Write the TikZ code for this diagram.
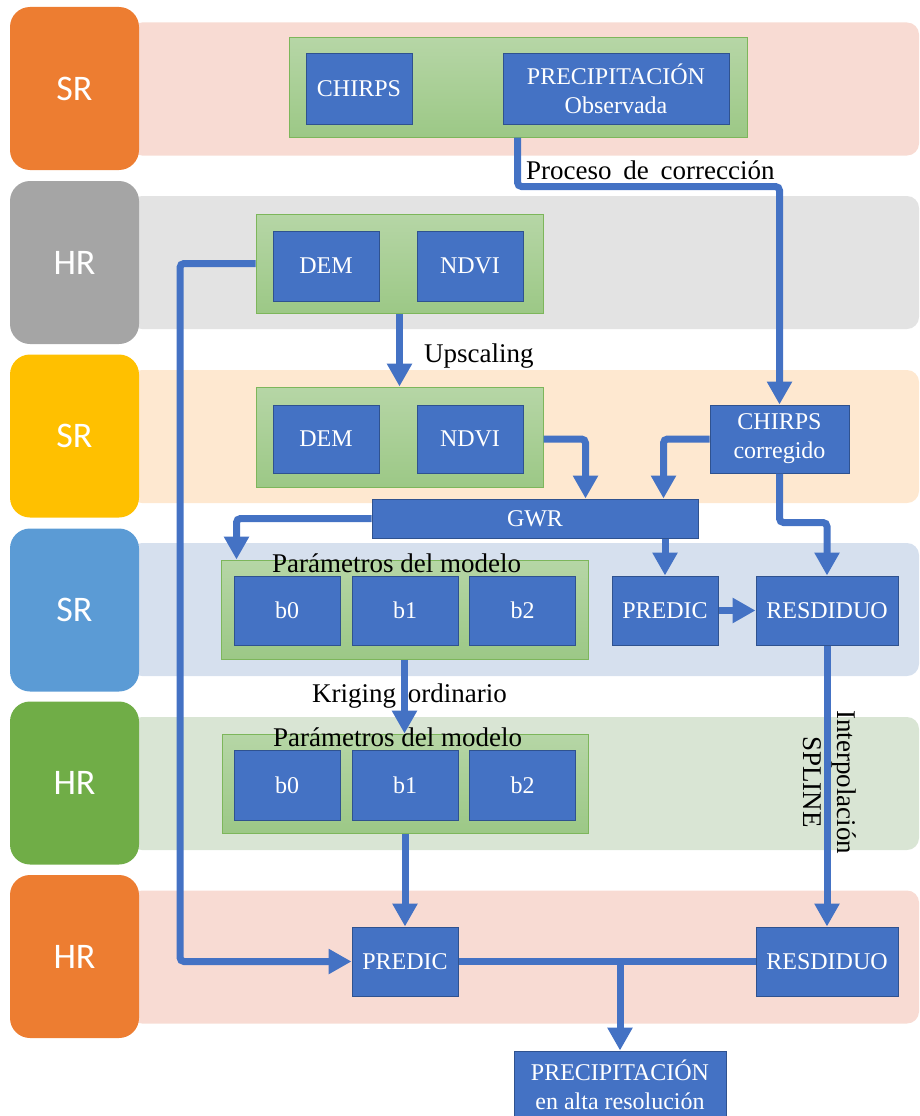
\documentclass[tikz,border=0pt]{standalone}
\usepackage{fontspec}
\setmainfont{Liberation Serif}
\newfontfamily\tagfont{Carlito}
\usetikzlibrary{arrows.meta,calc}

\definecolor{blkfill}{HTML}{4472C4}
\definecolor{blkedge}{HTML}{2F528F}
\definecolor{grptop}{HTML}{B6D6A6}
\definecolor{grpbot}{HTML}{9CC886}
\definecolor{grpedge}{HTML}{7DB65B}
\definecolor{tagorange}{HTML}{ED7D31}
\definecolor{taggray}{HTML}{A5A5A5}
\definecolor{tagyellow}{HTML}{FFC000}
\definecolor{tagblue}{HTML}{5B9BD5}
\definecolor{taggreen}{HTML}{70AD47}
\definecolor{bandpink}{HTML}{F8DBD3}
\definecolor{bandgray}{HTML}{E3E3E3}
\definecolor{bandpeach}{HTML}{FEE8D0}
\definecolor{bandblue}{HTML}{D6E0EE}
\definecolor{bandgreen}{HTML}{D9E5D4}

\begin{document}
\begin{tikzpicture}[x=1pt,y=-1pt,
  band/.style={rectangle, rounded corners=12pt, inner sep=0pt, minimum width=789pt, minimum height=133pt},
  tag/.style={rectangle, rounded corners=20pt, inner sep=0pt, minimum width=129pt, minimum height=163pt,
    text=white, font=\tagfont\fontsize{36}{40}\selectfont},
  group/.style={rectangle, inner sep=0pt, draw=grpedge, line width=1pt, top color=grptop, bottom color=grpbot},
  blk/.style={rectangle, inner sep=0pt, draw=blkedge, line width=1pt, fill=blkfill, text=white,
    align=center, font=\fontsize{24}{29}\selectfont},
  note/.style={inner sep=0pt, text=black, font=\fontsize{27}{34}\selectfont},
  conn/.style={draw=blkfill, line width=7pt, rounded corners=4pt, -{Triangle[width=24pt,length=23pt]}},
  link/.style={draw=blkfill, line width=7pt}]

\useasboundingbox (0,0) rectangle (919,1116);

% horizontal bands, one per resolution level
\node[band, fill=bandpink]  (band1) at (524.5, 89)   {};
\node[band, fill=bandgray]  (band2) at (524.5, 262.5) {};
\node[band, fill=bandpeach] (band3) at (524.5, 436.5) {};
\node[band, fill=bandblue]  (band4) at (524.5, 609.5) {};
\node[band, fill=bandgreen] (band5) at (524.5, 783.5) {};
\node[band, fill=bandpink]  (band6) at (524.5, 957)   {};

% resolution tags on the left
\node[tag, fill=tagorange] (tag1) at (74.5, 88.5)  {SR};
\node[tag, fill=taggray]   (tag2) at (74.5, 262.5) {HR};
\node[tag, fill=tagyellow] (tag3) at (74.5, 436)   {SR};
\node[tag, fill=tagblue]   (tag4) at (74.5, 610)   {SR};
\node[tag, fill=taggreen]  (tag5) at (74.5, 783)   {HR};
\node[tag, fill=tagorange] (tag6) at (74.5, 956.5) {HR};

% input data
\node[group, minimum width=458pt, minimum height=99pt] (c1) at (518, 87.5) {};
\node[blk, minimum width=106pt, minimum height=70pt] (chirps) at (359, 89) {CHIRPS};
\node[blk, minimum width=226pt, minimum height=70pt] (prec) at (616, 89) {PRECIPITACIÓN\\Observada};

% covariates at high resolution
\node[group, minimum width=287pt, minimum height=99pt] (c2) at (399.5, 263.5) {};
\node[blk, minimum width=106pt, minimum height=70pt] (dem1) at (326, 266) {DEM};
\node[blk, minimum width=106pt, minimum height=70pt] (ndvi1) at (470, 266) {NDVI};

% covariates upscaled
\node[group, minimum width=287pt, minimum height=100pt] (c3) at (399.5, 437) {};
\node[blk, minimum width=106pt, minimum height=68pt] (dem2) at (326, 439) {DEM};
\node[blk, minimum width=106pt, minimum height=68pt] (ndvi2) at (470, 439) {NDVI};

\node[blk, minimum width=139pt, minimum height=68pt] (chc) at (779.5, 439) {CHIRPS\\corregido};
\node[blk, minimum width=326pt, minimum height=39pt] (gwr) at (535, 518.5) {GWR};

% model parameters at low resolution
\node[group, minimum width=367pt, minimum height=99pt] (c4) at (404.5, 609.5) {};
\node[blk, minimum width=106pt, minimum height=69pt] (b0s) at (287, 610.5) {b0};
\node[blk, minimum width=106pt, minimum height=69pt] (b1s) at (405, 610.5) {b1};
\node[blk, minimum width=106pt, minimum height=69pt] (b2s) at (522.5, 610.5) {b2};
\node[blk, minimum width=106pt, minimum height=69pt] (preds) at (665, 610.5) {PREDIC};
\node[blk, minimum width=142pt, minimum height=69pt] (ress) at (827, 610.5) {RESDIDUO};

% model parameters at high resolution
\node[group, minimum width=366pt, minimum height=99pt] (c5) at (405, 783.5) {};
\node[blk, minimum width=106pt, minimum height=70pt] (b0h) at (287, 785) {b0};
\node[blk, minimum width=106pt, minimum height=70pt] (b1h) at (405, 785) {b1};
\node[blk, minimum width=106pt, minimum height=70pt] (b2h) at (522.5, 785) {b2};

% final prediction
\node[blk, minimum width=106pt, minimum height=69pt] (predh) at (405, 961.5) {PREDIC};
\node[blk, minimum width=142pt, minimum height=69pt] (resh) at (827, 961.5) {RESDIDUO};
\node[blk, minimum width=212pt, minimum height=68pt] (fin) at (620, 1085) {PRECIPITACIÓN\\en alta resolución};

% step labels
\node[note, anchor=base west] (lcorr) at (526, 179) {Proceso\hspace{5pt} de\hspace{5pt} corrección};
\node[note, anchor=base west] (lups) at (424, 362) {Upscaling};
\node[note, anchor=base west] (lkrig) at (312, 702) {Kriging\hspace{5pt} ordinario};
\node[note, anchor=base west] (lpar1) at (272, 572) {Parámetros del modelo};
\node[note, anchor=base west] (lpar2) at (273, 746) {Parámetros del modelo};
\node[note, rotate=-90, align=center] (lspl) at (830, 782) {Interpolación\\SPLINE};

% connectors
\draw[conn] ($(c1.south -| prec.west)+(15,0)$) |- ($(chc.north)+(0,-218)$) -- (chc.north);
\coordinate (rail) at (180, 600);
\draw[conn] (c2.west) -| (rail) |- (predh.west);
\draw[conn] (c2.south) -- (c3.north);
\draw[conn] (c3.east |- ndvi2) -| ($(gwr.north west)+(214,0)$);
\draw[conn] (chc.west) -| ($(gwr.north west)+(292,0)$);
\draw[conn] (chc.south) -- ++(0,49) -| (ress.north);
\draw[conn] (gwr.west) -| ($(c4.north west)+(16,0)$);
\draw[conn] (gwr.south -| preds.north) -- (preds.north);
\draw[conn] (preds.east) -- (ress.west);
\draw[conn] (c4.south) -- (c4.south |- c5.north);
\draw[conn] (c5.south) -- (predh.north);
\draw[conn] (ress.south) -- (resh.north);
\draw[link] (predh.east) -- (resh.west);
\draw[conn] (predh.east -| fin.north) -- (fin.north);

\end{tikzpicture}
\end{document}
